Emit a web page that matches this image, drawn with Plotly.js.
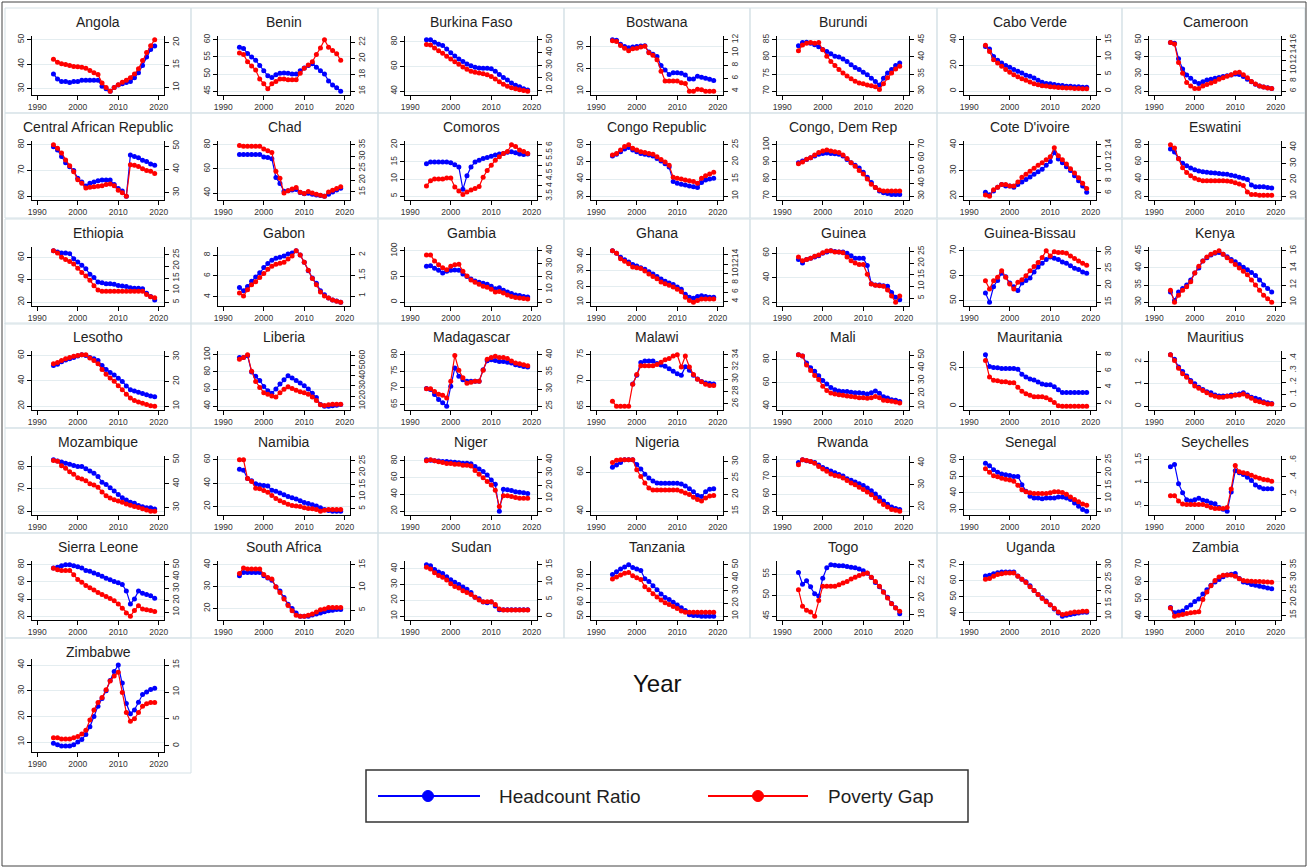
<!DOCTYPE html>
<html><head><meta charset="utf-8">
<script src="https://cdn.plot.ly/plotly-3.0.1.min.js"></script>
<style>html,body{margin:0;padding:0;background:#fff;}#chart{width:1308px;height:868px;}</style>
</head><body><div id="chart"></div>
<script>
const years = [1994,1995,1996,1997,1998,1999,2000,2001,2002,2003,2004,2005,2006,2007,2008,2009,2010,2011,2012,2013,2014,2015,2016,2017,2018,2019];
const countries = ["Angola","Benin","Burkina Faso","Bostwana","Burundi","Cabo Verde","Cameroon","Central African Republic","Chad","Comoros","Congo Republic","Congo, Dem Rep","Cote D'ivoire","Eswatini","Ethiopia","Gabon","Gambia","Ghana","Guinea","Guinea-Bissau","Kenya","Lesotho","Liberia","Madagascar","Malawi","Mali","Mauritania","Mauritius","Mozambique","Namibia","Niger","Nigeria","Rwanda","Senegal","Seychelles","Sierra Leone","South Africa","Sudan","Tanzania","Togo","Uganda","Zambia","Zimbabwe"];

const hr_Angola = [36,34,33,33,32.5,33,33,33.5,33.5,33.5,33.5,33.5,31,30,29,30.5,31.5,32,32.5,33,34.5,36.5,39.5,43,46,47.5];
const pg_Angola = [16.3,15.6,15.3,15.1,14.9,14.7,14.6,14.5,14.3,13.8,13.3,12.9,11,10,9.2,10,10.6,11.2,11.6,12.2,13,14.2,16,17.8,19.3,20.6];
const hr_Benin = [57.8,57.5,56,55,54,52.5,51,49.5,49,49.8,50.2,50.3,50.2,50,50,51,51.8,52.5,53,52,51,50,48,46.8,46,45];
const pg_Benin = [20.7,20.5,19.6,19.1,18.6,17.5,16.9,16.3,16.9,17.2,17.5,17.5,17.4,17.4,17.4,18.2,18.8,19.2,19.6,20.5,21.3,22.3,21.4,21,20.6,19.8];
const hr_BurkinaFaso = [81.5,81.5,79.5,78,77,74,71,68.5,66,64,62,60.5,59.3,58.8,58.5,58.5,58.2,56,53.5,51,49,46.5,44.8,43.5,42,41];
const pg_BurkinaFaso = [46.4,45.9,43.5,41.5,39.5,37,35,32.8,30.8,28.7,26.8,25.3,24.5,23.9,23.4,22.5,21.2,19.2,17,15,13.5,12.3,11.5,10.8,10.2,9.6];
const hr_Bostwana = [33,32.8,31,30,29.5,29.8,30,30.2,30.4,27.5,26.5,25.5,21.5,19.5,17.5,18.3,18.3,18,17.2,15.5,15.5,16.7,16.2,15.8,15.3,14.8];
const pg_Bostwana = [11.85,11.75,11.1,10.7,10.3,10.6,10.7,10.9,11,10,9.6,8.9,7.1,5.6,5.6,5.6,5.6,5.3,5.2,4.0,4.0,4.3,4.2,4.0,4.0,4.0];
const hr_Burundi = [83.3,84.2,84.3,84,83.6,83,82.2,81.6,80.9,80.2,80,79.4,78.7,77.7,76.9,76.3,75.5,74.8,73.8,72.8,71.8,73.8,75.3,76.3,77.5,78.2];
const pg_Burundi = [41.8,43.5,44,44.2,44,44.2,42.1,40.2,38.7,37.5,36.3,35.3,34.4,33.6,32.9,32.4,32.2,31.8,31.6,31.3,30.5,32.2,33.9,35.3,36.5,37.3];
const hr_CaboVerde = [34.8,32.8,27.1,24,21.9,20,18.6,16.8,15.5,14.2,12.4,11.6,10.3,8.5,6.9,5.9,5.7,5.2,4.6,4.4,3.9,3.9,3.4,3.4,3.1,3.1];
const pg_CaboVerde = [13.4,11.6,9.2,8.2,7.3,6.3,5.5,4.8,4.2,3.6,3.2,2.7,2.2,1.9,1.6,1.5,1.3,1.2,1.1,1.0,0.9,0.9,0.8,0.8,0.7,0.7];
const hr_Cameroon = [48.5,48,39,33,29.5,27.5,25.5,24.5,25.5,26.5,27,27.5,28,28.5,29,29.5,30,29.8,28.5,27,25.5,24,23,22.5,22,21.5];
const pg_Cameroon = [15.5,15.2,11.6,9.5,7.7,7.0,6.5,6.5,7,7.3,7.6,7.9,8.3,8.6,8.9,9.2,9.6,9.7,9.2,8.6,7.9,7.4,7.0,6.8,6.6,6.5];
const hr_CAR = [79.3,78,75.5,73,71.5,70,67,65.5,64,65,65.5,66,66.3,66.3,66.3,64.5,63,62,60,76,75.5,75,74,73.5,72.5,72];
const pg_CAR = [50.5,49,47,44,41.5,39,35.5,34,32,32.3,32.5,32.7,33,33.5,33.7,33,31,30,28.5,42,41.8,41.2,40.2,39.5,39.2,38.2];
const hr_Chad = [72,72,72,72,72,72,70,69.5,68.5,53,48,41.5,42,42.5,43,40.5,39.5,40,39,38.5,38,37.5,39,41,42.5,44];
const pg_Chad = [34.7,34.4,34.4,34.4,34.4,34.4,33.2,32.5,31.7,23.8,20.8,14.5,15.5,16.2,16.9,14.9,14.3,15.2,14.5,14,13.6,13.2,15,15.7,16.5,17.2];
const hr_Comoros = [14.5,15,15,15,15,15,14.8,14.2,13.5,7,11,13.5,15,15.5,16,16.3,16.7,17,17.3,17.5,17.8,18,17.7,17.3,17.2,17.3];
const pg_Comoros = [4.0,4.25,4.33,4.33,4.33,4.38,4.38,3.95,3.75,3.58,3.7,3.8,3.87,3.97,4.42,4.75,5.0,5.25,5.42,5.58,5.67,6.0,5.92,5.75,5.67,5.58];
const hr_CongoRep = [53.5,54.5,56,57.5,58.5,57,56,55,54.5,54,53.5,52,50.5,49,47,38.5,37.5,37,36.5,36,35.5,35,38,39.5,40,40.5];
const pg_CongoRep = [22,22.5,23.5,24.5,25,24,23.5,23,22.75,22.5,22.25,21.5,20.75,20,19,15.5,15.25,15,14.75,14.5,14.25,13.75,15.25,16,16.5,17];
const hr_CongoDR = [89.5,90.5,91.5,92.5,93.5,94.5,95,95.3,95,94.8,94.5,93.5,91.5,89.5,88,86.5,84,81,78,75,73,72,71.5,71,71,71];
const pg_CongoDR = [55.3,56.7,58.7,60,62,64,65.3,66,65.3,64.7,64,62,59.3,56,53.3,50,47.3,43.3,39.3,36.7,34.7,34,34,34,34,34];
const hr_Cote = [21.5,20.5,22,23.5,24.5,24,24,23.5,24.5,25.5,26.5,27.5,28.5,29.5,30.5,32,33.5,37,34.5,33,31.5,30,28,26,24,21.5];
const pg_Cote = [5.65,5.44,6.51,6.94,7.37,7.37,7.15,7.15,7.8,8.6,9.1,9.6,10.1,10.6,11,11.5,12,13.5,12.2,11.5,10.8,10,9.3,8.5,7.6,6.7];
const hr_Eswatini = [75,71.5,64,58.5,55.5,53,51,49.5,48.5,48,47.5,47,46.5,46,45.5,44.5,43.5,42,41,39.5,33,31,31,31,30,29.5];
const pg_Eswatini = [41.5,39.5,33,27.5,24.5,22.5,21,20,19.5,19.5,19.5,19.5,19.5,19.5,19.3,19,18.3,17.5,16.5,12.5,11,11,10.5,10.5,10.5,10.5];
const hr_Ethiopia = [66,65,64,64,63.5,59,56,53,50,45,42,38,37.5,36.5,36.5,36,35,34.5,34,33,32.5,32.5,32,28,25,22];
const pg_Ethiopia = [26.5,25.6,23.8,22.9,22,21,19.2,17.4,16,14.2,11.9,10.1,9.6,9.6,9.6,9.6,9.6,9.6,9.6,9.6,9.6,9.6,9.6,8.2,7.3,6.8];
const hr_Gabon = [4.9,4.6,5.0,5.5,5.9,6.3,6.8,7.2,7.5,7.7,7.8,7.9,8.1,8.2,8.4,8.0,7.3,6.5,5.8,5.3,4.6,4.2,3.9,3.7,3.6,3.5];
const pg_Gabon = [1.075,1.0,1.15,1.275,1.35,1.45,1.55,1.65,1.725,1.775,1.8,1.825,1.9,1.975,2.1,2.0,1.825,1.625,1.425,1.275,1.1,1.0,0.95,0.9,0.875,0.85];
const hr_Gambia = [70,71,66,62,57,60,62,62.5,62,55,50,45,41,39,37,35,31,26,28,23,20,17,14,13,11,10];
const pg_Gambia = [36.8,36.8,32,29.2,26.8,25.2,28,29.2,29.6,24,20.4,17.2,15.6,14,12.4,11.6,10,8,8.4,7.2,5.6,4.4,3.6,3.2,2.8,2.4];
const hr_Ghana = [42,40.5,38,36.5,35,33.5,32.5,31.5,30.5,29,27.5,26,24.5,23,22,21,19.5,18,15,13,12.5,13.5,14,13.5,13,13];
const pg_Ghana = [14.86,14.35,13.14,12.62,12.1,11.41,11.24,11.07,10.55,9.86,9.34,8.83,8.14,7.79,7.45,7.1,6.58,6.07,4.86,4.17,3.82,4.17,4.51,4.51,4.51,4.51];
const hr_Guinea = [55,52,55,56,57,58,60,61,62,61.5,61,61,60,58,56,56,56,50,35,34,34,33.5,33,28,24,22];
const pg_Guinea = [22.7,21.1,21.65,22.2,23,23.5,24.5,25.3,25.33,24.8,24.8,24.5,22.7,21.1,20.1,19.5,19.5,15.3,11.1,10.6,10.3,10.1,8.5,5.9,3.3,5.9];
const hr_GuineaBissau = [53,49.3,55.5,58,61,59.5,57,55.5,54,57,58,59,61.5,63.5,65,66.5,67.5,67,66.5,65.5,65,64,63,62.5,61.5,61];
const pg_GuineaBissau = [21.4,18.9,21.4,22.4,24.4,22.4,20.4,18.9,20.9,21.7,22.9,24.4,25.6,26.8,28.3,30.3,28.8,30,29.8,29.8,29.6,28.8,28,27.3,26.6,26];
const hr_Kenya = [33,30.5,33,34,35,36.5,38.5,40,42,43,43.8,44.3,44.5,44,43.3,42.5,41.8,41,40.2,39.5,38.7,37.8,36.5,35,34,33];
const pg_Kenya = [11.4,10,10.8,11.4,11.8,12.4,13.4,14.2,14.8,15.28,15.6,15.8,16,15.6,15.2,14.8,14.4,14,13.6,13.2,12.6,12,11.4,10.8,10.4,10];
const hr_Lesotho = [52,53,55,56.5,57.5,58.5,59.5,60.5,60,58.5,57.5,56,52,49,46.5,44.5,42,39.5,36,33,32,31,30,29,28,27.5];
const pg_Lesotho = [27.2,27.7,28.5,29.2,29.7,30.25,30.5,30.8,30.8,29.5,28.5,27.2,24.9,22.9,21.4,20.1,18.3,16.6,14.8,13.3,12.3,11.7,11.2,10.7,10.2,10];
const hr_Liberia = [97,97,99,80,75,70,63,58,55,60,66,71,75.5,73,70,67,64,60,55,50,42,40,40,40.5,41,42];
const pg_Liberia = [56.6,58.3,60.9,44.7,34.4,28.5,23.4,21.7,20,19.1,23.4,26.8,29.3,27.6,25.9,24.2,23.4,21.7,19.1,15.7,11.4,10.6,11.4,11.9,11.9,11.9];
const hr_Madagascar = [69.8,69.5,68,66.5,65.5,64.5,70.5,76,73.5,72.5,72,72,72,72,75.5,78.2,78.5,78.3,78,78,77.8,77.5,77,76.8,76.5,76.3];
const pg_Madagascar = [30.1,30.1,29.3,28.5,28.2,27.4,32.3,39.8,35.5,33.3,31.7,32,32.3,32.3,35.5,38.7,39.2,39.6,39.2,39.2,38.9,38.2,37.6,37.4,37.1,36.8];
const hr_Malawi = [null,null,null,null,null,69.3,71,73.5,73.8,73.8,73.8,73.3,73,72.8,72.3,71.8,71.3,71,72.7,72,71,70.3,69.8,69.5,69.4,69.3];
const pg_Malawi = [26.4,25.6,25.6,25.6,25.6,29.2,30.8,32.2,32.2,32.2,32.2,32.4,32.8,33.2,33.4,33.8,34,32,33.8,32,30.8,30,29.6,29.2,29,29];
const hr_Mali = [84,83,77,73,70,66,62,59,56,54,53,52.5,52.5,52,51.5,51.5,51,50.5,51.5,53,51,48,47,45.5,45,44];
const pg_Mali = [50.2,49.3,42.2,37.9,34.1,30.8,25.6,22.3,20.4,19.5,19,18.5,18,17.6,17.1,16.6,16.6,16.1,16.6,17.6,16.6,14.7,14.3,13.8,13.3,12.4];
const hr_Mauritania = [26.5,20.5,20,19.8,19.5,19.5,19.5,19.5,19,16.5,15,14,13.5,12.5,11.5,11,11,10,8.5,7,7,7,7,7,7,7];
const pg_Mauritania = [7.3,5.25,4.86,4.8,4.67,4.67,4.55,4.55,4.0,3.5,3.2,3.0,2.8,2.8,2.8,2.7,2.43,2.1,1.7,1.65,1.65,1.65,1.65,1.65,1.65,1.65];
const hr_Mauritius = [2.3,2.1,1.75,1.55,1.35,1.15,1.0,0.85,0.75,0.65,0.6,0.5,0.45,0.45,0.45,0.5,0.5,0.55,0.6,0.5,0.4,0.35,0.3,0.2,0.15,0.12];
const pg_Mauritius = [0.427,0.38,0.315,0.269,0.241,0.204,0.167,0.148,0.13,0.111,0.093,0.083,0.074,0.074,0.083,0.083,0.093,0.093,0.102,0.083,0.065,0.046,0.037,0.028,0.018,0.018];
const hr_Mozambique = [83,82.5,82,81.5,81,80.5,80,80,79,78,77,75.5,73,72,70.5,69,67.5,66,65,64,63.5,62.5,62,61.5,61.5,61];
const pg_Mozambique = [49.7,49.4,47.5,46.5,45,44,42.5,42,41.2,40,39.5,38.5,36.5,35,34,33.3,32.8,32.2,31.5,31,30.5,30,29.5,29,28.5,28.5];
const hr_Namibia = [52,51,44,42,39.5,38.5,38,37.5,34,33,31.5,30,28.5,27.5,26.5,25,23.5,22.5,21.5,20.5,19,17.5,16.5,16,16,16];
const pg_Namibia = [25.4,25.4,17.6,16.4,13.6,13.3,12.6,11.9,10.5,9.3,8.3,7.6,6.9,6.4,6.1,5.9,5.4,5.1,5,4.7,4,4.4,4.7,4.7,4.7,4.7];
const hr_Niger = [81,80.5,80,79.5,79,79,78.5,78,77.5,77,77,76.5,73,70,67,63,57,52,20,46,45.5,44.5,43,42.5,42,41];
const pg_Niger = [39.2,40,39.2,38.6,38,37.2,37.2,36.6,36.6,35.8,35.8,35.3,31.6,28.8,26,23.2,20.4,16.3,3.7,12,12,11.5,10.7,10.1,10.1,10.1];
const hr_Nigeria = [62.6,63.8,65,66.4,66.4,66.4,64,61.7,59,57,55.5,54.5,54.4,54.4,54.4,54.4,54.4,54,53,51.5,50,48,47.5,50,51.3,51.5];
const pg_Nigeria = [29.7,30.4,30.5,30.5,30.5,30.5,27.5,25.5,23.5,22,21.4,21.4,21.4,21.4,21.4,21.4,21.4,21,20.5,20,19.2,18.5,18.1,19,19.6,19.7];
const hr_Rwanda = [78.5,80,79.5,79,78.5,77,75.5,74.5,73.5,72.5,71.5,70.5,69,68,67,66,65,63.5,62,60,58,56,54,52.5,51.5,51];
const pg_Rwanda = [39.2,41.4,41.05,40.7,39.9,38.4,37.3,36.2,35,34.3,33.9,33.2,32,30.9,30.1,29,27.9,26.8,25.6,24.1,22.6,21.1,20,18.9,18.5,18.1];
const hr_Senegal = [58,56.5,54,52.5,51.5,51,50.5,50,50,45,41,38,37,37,36.5,37,37,37,37.5,37.5,37,36,34,32,30,29];
const pg_Senegal = [21.55,20.2,18.8,18.4,17.8,17.4,17.1,16.7,15.1,13.3,12.6,12.2,11.9,11.9,11.9,11.9,12.2,12.6,12.6,12.3,11.6,10.5,9.55,8.7,7.8,7.3];
const hr_Seychelles = [1.35,1.4,0.98,0.78,0.63,0.6,0.63,0.66,0.62,0.6,0.56,0.54,0.46,0.42,0.38,0.8,1.26,1.22,1.18,1.12,1.05,0.95,0.9,0.87,0.87,0.87];
const pg_Seychelles = [0.18,0.18,0.12,0.085,0.077,0.077,0.077,0.077,0.077,0.064,0.042,0.03,0.03,0.03,0.042,0.26,0.535,0.46,0.45,0.44,0.42,0.40,0.385,0.37,0.365,0.35];
const hr_SierraLeone = [76.2,77.3,78.9,80,80,78.9,77.7,76.2,73.5,72.4,70.5,68.6,66.7,64.4,62.5,60.6,59,57.1,49.5,34.3,40,49.5,46.9,45.3,43.8,40.8];
const pg_SierraLeone = [47.2,45.9,45.3,45.3,45.3,41.7,37.6,35.4,32.6,30.7,28.8,26.6,24.9,23.2,21.6,19.7,16.9,13.3,9.4,6.7,11.4,15.5,12.8,12.2,11.4,10.6];
const hr_SouthAfrica = [35,36.5,36.5,36.5,36.5,36.5,35,34,33,30,28,25,22,20,18,16.5,16.5,16.5,17,17.5,18,18.5,19,19.2,19.5,19.5];
const pg_SouthAfrica = [13.1,14.3,14.1,14.1,14.1,14.1,12.9,12.2,11.9,10.1,8.9,7.5,6.05,4.9,3.9,3.7,3.7,3.9,4.2,4.6,5.1,5.3,5.6,5.6,5.6,5.6];
const hr_Sudan = [42.5,42,39.5,38,37,35,33,31.5,30,28.5,27,25,22,21,19,18.5,19,16.5,14,14,14,14,14,14,14,14];
const pg_Sudan = [14.3,13.8,12.7,11.9,11.4,10.6,9.5,8.7,8.2,7.4,6.9,6.3,5.5,4.7,4.2,4.2,4.2,3.4,2.1,1.8,1.8,1.8,1.8,1.8,1.8,1.8];
const hr_Tanzania = [80,82,84,85.5,87,85,84,83,77,75,72,69,66,63.5,62,60,58,56,54,51,50.5,50.5,50,50,50,50];
const pg_Tanzania = [39,40.5,42,43.5,44,41.5,40,38.5,33,30.5,27.5,25,22.5,20.5,19,17.5,16,14,13,13,13,13,13,13,13,13];
const hr_Togo = [55.4,52.6,53.4,52,50.3,49.8,54,56.5,57.2,57.1,57,57,56.8,56.6,56.5,56.2,55.8,55.2,54.2,53,52,50.8,49.5,48,47,45.6];
const pg_Togo = [21,19,18.5,18.3,17.8,19.7,21.4,21.4,21.4,21.4,21.6,21.8,22,22.3,22.5,22.7,22.9,23,22.5,22,21.4,20.7,20,19.3,18.8,18.4];
const hr_Uganda = [63,63.5,64.5,65,65.5,65.5,65.5,65.5,63,61,59.5,57,54,51.5,49.5,47.5,45,42.5,40,38,38.5,39,39.5,40,40.5,40.5];
const pg_Uganda = [24.35,24.66,25.6,26.2,26.5,26.8,26.8,26.8,25.6,24.35,23.1,21.5,20,18.4,16.9,15.6,14.4,13.1,11.6,10.6,10.95,11.3,11.6,11.6,11.9,11.9];
const hr_Zambia = [45,42,42.5,43,45,46.5,48.5,50,53,55.5,58,60,61.5,63,64,64.5,65,62,60,59.5,58.5,58,57.5,57,56.5,56];
const pg_Zambia = [17.8,14.6,15,15.3,15.7,16,16.2,16.4,21.2,24.2,26.7,28.8,30.2,30.9,31,31,30.5,29.5,28.8,28.6,28.5,28.4,28.4,28.3,28.2,28.1];
const hr_Zimbabwe = [9.5,9,8.5,8.5,8.5,9,10,11,13,16,20,24,27,30,34,37.5,40,33,25,21,22.5,25.5,28.5,29.5,30.5,31];
const pg_Zimbabwe = [1.53,1.53,1.3,1.3,1.3,1.53,1.77,2.23,2.93,4.8,6.66,8.06,9,10.4,12.03,12.97,13.67,9.93,6.2,4.56,5.03,6.2,7.36,7.83,8.06,8.06];

const headcountSeries = [hr_Angola,hr_Benin,hr_BurkinaFaso,hr_Bostwana,hr_Burundi,hr_CaboVerde,hr_Cameroon,hr_CAR,hr_Chad,hr_Comoros,hr_CongoRep,hr_CongoDR,hr_Cote,hr_Eswatini,hr_Ethiopia,hr_Gabon,hr_Gambia,hr_Ghana,hr_Guinea,hr_GuineaBissau,hr_Kenya,hr_Lesotho,hr_Liberia,hr_Madagascar,hr_Malawi,hr_Mali,hr_Mauritania,hr_Mauritius,hr_Mozambique,hr_Namibia,hr_Niger,hr_Nigeria,hr_Rwanda,hr_Senegal,hr_Seychelles,hr_SierraLeone,hr_SouthAfrica,hr_Sudan,hr_Tanzania,hr_Togo,hr_Uganda,hr_Zambia,hr_Zimbabwe];
const gapSeries = [pg_Angola,pg_Benin,pg_BurkinaFaso,pg_Bostwana,pg_Burundi,pg_CaboVerde,pg_Cameroon,pg_CAR,pg_Chad,pg_Comoros,pg_CongoRep,pg_CongoDR,pg_Cote,pg_Eswatini,pg_Ethiopia,pg_Gabon,pg_Gambia,pg_Ghana,pg_Guinea,pg_GuineaBissau,pg_Kenya,pg_Lesotho,pg_Liberia,pg_Madagascar,pg_Malawi,pg_Mali,pg_Mauritania,pg_Mauritius,pg_Mozambique,pg_Namibia,pg_Niger,pg_Nigeria,pg_Rwanda,pg_Senegal,pg_Seychelles,pg_SierraLeone,pg_SouthAfrica,pg_Sudan,pg_Tanzania,pg_Togo,pg_Uganda,pg_Zambia,pg_Zimbabwe];

const leftTicks = [[30,40,50],[45,50,55,60],[40,60,80],[10,20,30],[70,75,80,85],[0,20,40],[20,30,40,50],
 [60,70,80],[40,60,80],[5,10,15,20],[30,40,50,60],[70,80,90,100],[20,30,40],[20,40,60,80],
 [20,40,60],[4,6,8],[0,50,100],[10,20,30,40],[20,40,60],[50,60,70],[30,35,40,45],
 [20,40,60],[40,60,80,100],[65,70,75,80],[65,70,75],[40,60,80],[0,20],[0,1,2],
 [60,70,80],[20,40,60],[20,40,60,80],[40,60],[50,60,70,80],[30,40,50,60],[0.5,1,1.5],
 [20,40,60,80],[20,30,40],[10,20,30,40],[50,60,70,80],[45,50,55],[40,50,60,70],[40,50,60,70],
 [10,20,30,40]];
const rightTicks = [[10,15,20],[16,18,20,22],[10,20,30,40,50],[4,6,8,10,12],[30,35,40,45],[0,5,10,15],[6,8,10,12,14,16],
 [30,40,50],[15,20,25,30,35],[3.5,4,4.5,5,5.5,6],[10,15,20,25],[30,40,50,60,70],[6,8,10,12,14],[10,20,30,40],
 [5,10,15,20,25],[1,1.5,2],[0,10,20,30,40],[4,6,8,10,12,14],[5,10,15,20,25],[15,20,25,30],[10,12,14,16],
 [10,20,30],[10,20,30,40,50,60],[25,30,35,40],[26,28,30,32,34],[10,20,30,40,50],[2,4,6,8],[0,0.1,0.2,0.3,0.4],
 [30,40,50],[5,10,15,20,25],[0,10,20,30,40],[15,20,25,30],[20,30,40],[5,10,15,20,25],[0,0.2,0.4,0.6],
 [10,20,30,40,50],[5,10,15],[0,5,10,15],[10,20,30,40,50],[18,20,22,24],[10,15,20,25,30],[15,20,25,30,35],
 [0,5,10,15]];
const xTicks = [1990,2000,2010,2020];
const seriesNames = ["Headcount Ratio","Poverty Gap"];
const seriesColors = ["#0000ff","#ff0000"];

const W = 1308, H = 868;
const colLeft = [5,191,378,564,750,937,1122];
const rowTop = [8,113,219,323,428,533,638];
const px = x => x / W, py = y => 1 - y / H;
const fmt = v => { let s = String(v); if (s.startsWith('0.')) s = s.slice(1); return s; };
function rng(vals, ticks) {
  const v = vals.filter(a => a != null);
  const lo = Math.min(...v, ticks[0]), hi = Math.max(...v, ticks[ticks.length - 1]);
  const p = (hi - lo) * 0.075;
  return [lo - p, hi + p];
}
const FONT = 'Liberation Sans, Arial, sans-serif';
const axBase = {showline:true, linecolor:'#000', linewidth:1, ticks:'outside', ticklen:4, tickwidth:1, tickcolor:'#000',
  tickfont:{size:8.5, color:'#333', family:FONT}, zeroline:false, fixedrange:true};

const data = [];
const layout = {width:W, height:H, margin:{l:0,r:0,t:0,b:0}, paper_bgcolor:'#fff', plot_bgcolor:'rgba(0,0,0,0)',
  showlegend:false, hovermode:false, font:{family:FONT}, shapes:[], annotations:[]};

countries.forEach((name, k) => {
  const r = Math.floor(k / 7), c = k % 7;
  const L = colLeft[c], T = rowTop[r];
  const last = (r === 6);
  const plotTop = last ? T + 21 : T + 28;
  const plotBot = last ? 752 : T + 87;
  const panelBot = last ? 773 : T + 105;
  const panelRight = c === 6 ? 1305 : colLeft[c + 1];
  const xs = 'x' + (k + 1), ys = 'y' + (2 * k + 1), ys2 = 'y' + (2 * k + 2);
  layout['xaxis' + (k + 1)] = Object.assign({}, axBase, {domain:[px(L + 27), px(L + 159)], anchor:ys,
    range:[1988.7, 2021.3], tickvals:xTicks, ticktext:xTicks.map(String), showgrid:false});
  layout['yaxis' + (2 * k + 1)] = Object.assign({}, axBase, {domain:[py(plotBot), py(plotTop)], anchor:xs,
    range:rng(headcountSeries[k], leftTicks[k]), tickvals:leftTicks[k], ticktext:leftTicks[k].map(fmt),
    tickangle:-90, showgrid:true, gridcolor:'#e4edf0', gridwidth:1});
  layout['yaxis' + (2 * k + 2)] = Object.assign({}, axBase, {overlaying:ys, side:'right', anchor:xs,
    range:rng(gapSeries[k], rightTicks[k]), tickvals:rightTicks[k], ticktext:rightTicks[k].map(fmt),
    tickangle:-90, showgrid:false});
  [headcountSeries[k], gapSeries[k]].forEach((vals, s) => {
    data.push({type:'scatter', mode:'lines+markers', x:years, y:vals, xaxis:xs, yaxis: s === 0 ? ys : ys2,
      name:seriesNames[s], connectgaps:false, hoverinfo:'skip',
      line:{color:seriesColors[s], width:1.2}, marker:{color:seriesColors[s], size:5}});
  });
  layout.shapes.push({type:'rect', xref:'paper', yref:'paper', layer:'below',
    x0:px(L), x1:px(panelRight), y0:py(panelBot), y1:py(T), line:{color:'#d5e1e6', width:1}});
  layout.annotations.push({text:name, xref:'paper', yref:'paper', x:px(L + 93), y:py(T + 14),
    xanchor:'center', yanchor:'middle', showarrow:false, font:{size:14, color:'#1e1e1e', family:FONT}});
});

// outer frame
layout.shapes.push({type:'rect', xref:'paper', yref:'paper', x0:px(2), x1:px(1306), y0:py(866), y1:py(2), line:{color:'#444', width:1}});
// Year label
layout.annotations.push({text:'Year', xref:'paper', yref:'paper', x:px(657), y:py(683), xanchor:'center', yanchor:'middle',
  showarrow:false, font:{size:24, color:'#111', family:FONT}});
// legend
layout.shapes.push({type:'rect', xref:'paper', yref:'paper', x0:px(366), x1:px(968), y0:py(822), y1:py(770), line:{color:'#333', width:1.5}});
const legendItems = [{lx0:378, lx1:480, cx:428, tx:497}, {lx0:708, lx1:808, cx:758, tx:826}];
legendItems.forEach((it, s) => {
  layout.shapes.push({type:'line', xref:'paper', yref:'paper', x0:px(it.lx0), x1:px(it.lx1), y0:py(796), y1:py(796), line:{color:seriesColors[s], width:2}});
  layout.shapes.push({type:'circle', xref:'paper', yref:'paper', x0:px(it.cx - 5.5), x1:px(it.cx + 5.5), y0:py(801.5), y1:py(790.5),
    fillcolor:seriesColors[s], line:{color:seriesColors[s], width:1}});
  layout.annotations.push({text:seriesNames[s], xref:'paper', yref:'paper', x:px(it.tx), y:py(796), xanchor:'left', yanchor:'middle',
    showarrow:false, font:{size:19, color:'#1e1e1e', family:FONT}});
});

Plotly.newPlot('chart', data, layout, {staticPlot:true, displayModeBar:false});
</script>
</body></html>
